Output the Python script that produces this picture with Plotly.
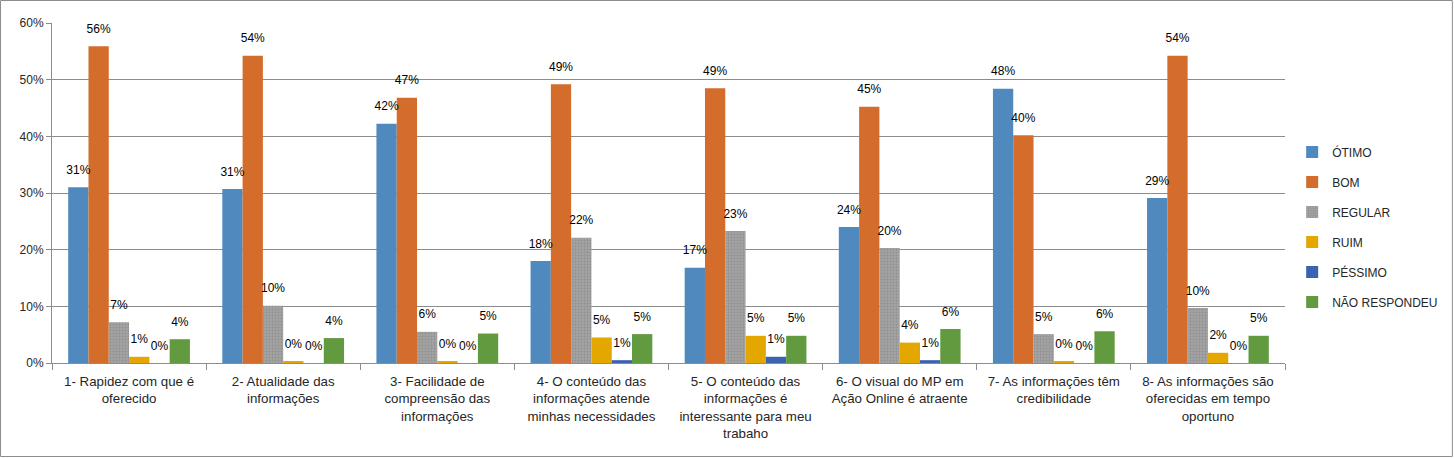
import plotly.graph_objects as go

categories = [
    "1- Rapidez com que é<br>oferecido",
    "2- Atualidade das<br>informações",
    "3- Facilidade de<br>compreensão das<br>informações",
    "4- O conteúdo das<br>informações atende<br>minhas necessidades",
    "5- O conteúdo das<br>informações é<br>interessante para meu<br>trabaho",
    "6- O visual do MP em<br>Ação Online é atraente",
    "7- As informações têm<br>credibilidade",
    "8- As informações são<br>oferecidas em tempo<br>oportuno",
]

otimo = [0.310, 0.307, 0.422, 0.180, 0.168, 0.240, 0.484, 0.291]
bom = [0.559, 0.542, 0.468, 0.492, 0.485, 0.452, 0.402, 0.542]
regular = [0.072, 0.101, 0.055, 0.221, 0.233, 0.203, 0.051, 0.097]
ruim = [0.011, 0.002, 0.002, 0.045, 0.048, 0.036, 0.002, 0.018]
pessimo = [0.0, 0.0, 0.0, 0.005, 0.011, 0.005, 0.0, 0.0]
nao_respondeu = [0.042, 0.044, 0.052, 0.051, 0.048, 0.060, 0.056, 0.048]

series = [
    ("ÓTIMO", otimo, "#4F89BD"),
    ("BOM", bom, "#D46D2C"),
    ("REGULAR", regular, "#959595"),
    ("RUIM", ruim, "#E3A700"),
    ("PÉSSIMO", pessimo, "#3A64B0"),
    ("NÃO RESPONDEU", nao_respondeu, "#629A40"),
]

FONT = "Liberation Sans"
GAP = 0.21
fig = go.Figure()
for i, (name, vals, color) in enumerate(series):
    marker = dict(color=color, line=dict(width=0))
    if name == "REGULAR":
        marker["pattern"] = dict(shape=".", size=3, solidity=0.45,
                                 fgcolor="#7f7f7f", bgcolor="#a6a6a6")
    fig.add_trace(go.Bar(
        name=name, x=categories, y=vals, marker=marker,
        legendgroup=name, hoverinfo="x+y",
    ))
# data labels (grouped scatter aligned with the bars)
for i, (name, vals, color) in enumerate(series):
    fig.add_trace(go.Scatter(
        x=categories, y=vals, mode="text+markers",
        marker=dict(size=15, opacity=0),
        text=vals, texttemplate="%{y:.0%}", textposition="top center",
        textfont=dict(family=FONT, size=12, color="#000000"),
        showlegend=False, hoverinfo="skip", cliponaxis=False,
        legendgroup=name,
    ))

W, H = 1454, 458
L, R, T, B = 52, 168, 23, 95
pw = W - L - R
ph = H - T - B

fig.update_layout(
    width=W, height=H,
    margin=dict(l=L, r=R, t=T, b=B),
    barmode="group", bargap=GAP, bargroupgap=0,
    scattermode="group", scattergap=GAP,
    plot_bgcolor="white", paper_bgcolor="white",
    font=dict(family=FONT, size=12, color="#262626"),
    legend=dict(x=1.005, y=0.40, xanchor="left", yanchor="middle",
                traceorder="grouped", tracegroupgap=11,
                font=dict(family=FONT, size=12, color="#262626"),
                itemwidth=30),
    showlegend=True,
)
fig.update_yaxes(range=[0, 0.6], dtick=0.1, tickformat=".0%",
                 showgrid=True, gridcolor="#8c8c8c", gridwidth=1,
                 showline=True, linecolor="#8c8c8c",
                 ticks="outside", ticklen=5, tickcolor="#8c8c8c",
                 zeroline=False, tickfont=dict(size=12))
fig.update_xaxes(showline=True, linecolor="#8c8c8c",
                 ticks="outside", tickson="boundaries", ticklen=6,
                 tickcolor="#8c8c8c", tickangle=0,
                 ticklabelstandoff=6,
                 tickfont=dict(size=13.3))

# chart border
fig.add_shape(type="rect", xref="paper", yref="paper",
              x0=(0.5 - L) / pw, x1=(W - 0.5 - L) / pw,
              y0=-(B - 1.5) / ph, y1=(ph + T - 0.5) / ph,
              line=dict(color="#8c8c8c", width=1))

fig.write_html("out.html")
